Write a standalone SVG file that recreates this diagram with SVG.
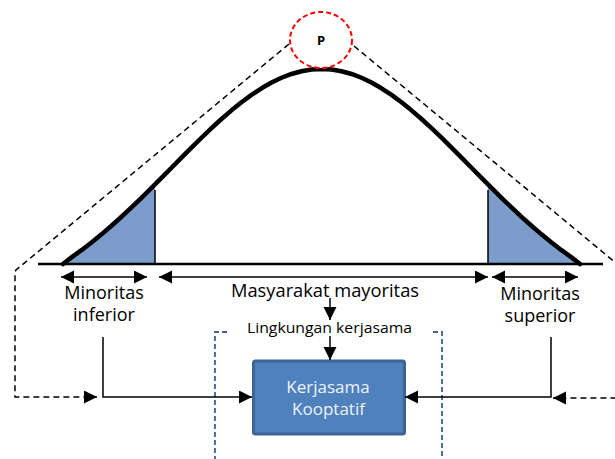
<svg xmlns="http://www.w3.org/2000/svg" width="615" height="459" viewBox="0 0 615 459">
<style>
.lbl{font-family:"Open Sans","Liberation Sans",sans-serif;font-size:18px;fill:#000;text-anchor:middle}
.dash{fill:none;stroke:#000;stroke-width:1.5;stroke-dasharray:6,4}
.solid{fill:none;stroke:#000;stroke-width:1.5}
.shade{fill:#7c9dcc;stroke:none}
.bracket{fill:none;stroke:#3e6396;stroke-width:1.8;stroke-dasharray:5,3}
</style>
<defs>
<marker id="ah" markerUnits="userSpaceOnUse" markerWidth="14" markerHeight="14" refX="13" refY="6.5" orient="auto-start-reverse">
<path d="M0,0 L13,6.5 L0,13 z" fill="#000"/>
</marker>
</defs>
<rect width="615" height="459" fill="#fff"/>
<g id="curve">
<polygon class="shade" points="63,264 71.5,257.39 81.5,250.19 91.5,242.51 101.5,234.36 111.5,225.78 121.5,216.79 131.5,207.45 141.5,197.81 151.5,187.93 155,184.4 155,264"/>
<polygon class="shade" points="488,264 488,184.4 491.5,187.93 501.5,197.81 511.5,207.45 521.5,216.79 531.5,225.78 541.5,234.36 551.5,242.51 561.5,250.19 571.5,257.39 580,264"/>
<line x1="155" y1="190" x2="155" y2="264" stroke="#000" stroke-width="1.5"/>
<line x1="488" y1="190" x2="488" y2="264" stroke="#000" stroke-width="1.5"/>
<polyline fill="none" stroke="#000" stroke-width="4.5" stroke-linejoin="round" stroke-linecap="round" points="63,264 71.5,257.39 81.5,250.19 91.5,242.51 101.5,234.36 111.5,225.78 121.5,216.79 131.5,207.45 141.5,197.81 151.5,187.93 161.5,177.89 171.5,167.75 181.5,157.61 191.5,147.58 201.5,137.73 211.5,128.17 221.5,119.01 231.5,110.34 241.5,102.27 251.5,94.89 261.5,88.29 271.5,82.56 281.5,77.77 291.5,73.97 301.5,71.22 311.5,69.56 321.5,69 331.5,69.56 341.5,71.22 351.5,73.97 361.5,77.77 371.5,82.56 381.5,88.29 391.5,94.89 401.5,102.27 411.5,110.34 421.5,119.01 431.5,128.17 441.5,137.73 451.5,147.58 461.5,157.61 471.5,167.75 481.5,177.89 491.5,187.93 501.5,197.81 511.5,207.45 521.5,216.79 531.5,225.78 541.5,234.36 551.5,242.51 561.5,250.19 571.5,257.39 580,264"/>
<line x1="38" y1="264" x2="603" y2="264" stroke="#000" stroke-width="2.5"/>
</g>
<g id="P">
<ellipse cx="321" cy="40" rx="31" ry="28" fill="#fff" stroke="#ff0000" stroke-width="2" stroke-dasharray="5,3"/>
<text x="321" y="45" font-family="'Open Sans','Liberation Sans',sans-serif" font-size="13" font-weight="bold" text-anchor="middle">P</text>
</g>
<g id="labels">
<text class="lbl" x="104" y="299">Minoritas</text>
<text class="lbl" x="104" y="321">inferior</text>
<text class="lbl" x="325" y="297" textLength="188" lengthAdjust="spacingAndGlyphs">Masyarakat mayoritas</text>
<text class="lbl" x="540" y="300">Minoritas</text>
<text class="lbl" x="540" y="322">superior</text>
<text x="329.5" y="333" font-family="'Open Sans','Liberation Sans',sans-serif" font-size="14.5" text-anchor="middle" textLength="165" lengthAdjust="spacingAndGlyphs">Lingkungan kerjasama</text>
</g>
<g id="box">
<rect x="253.5" y="361" width="151" height="73" rx="2" fill="#4f81bd" stroke="#3d6494" stroke-width="3"/>
<text x="328" y="392.5" font-family="'Open Sans','Liberation Sans',sans-serif" font-size="17" fill="#eef3fa" text-anchor="middle">Kerjasama</text>
<text x="328.5" y="415" font-family="'Open Sans','Liberation Sans',sans-serif" font-size="17" fill="#eef3fa" text-anchor="middle">Kooptatif</text>
</g>
<g id="bracket">
<polyline class="bracket" points="227,332 215,332 215,459"/>
<polyline class="bracket" points="433,332 442,332 442,459"/>
</g>
<g id="connectors">
<polyline class="dash" points="289,44 16,270 15,272 15,397 97,397" marker-end="url(#ah)"/>
<polyline class="dash" points="354,46 640,283 640,398 553,398" marker-end="url(#ah)"/>
<line class="solid" x1="61" y1="277" x2="147" y2="277" marker-start="url(#ah)" marker-end="url(#ah)"/>
<line class="solid" x1="159" y1="277" x2="488" y2="277" marker-start="url(#ah)" marker-end="url(#ah)"/>
<line class="solid" x1="492" y1="277" x2="578" y2="277" marker-start="url(#ah)" marker-end="url(#ah)"/>
<line class="solid" x1="330" y1="298" x2="330" y2="320" marker-end="url(#ah)"/>
<line class="solid" x1="330" y1="336" x2="330" y2="360" marker-end="url(#ah)"/>
<polyline class="solid" points="103,337 103,397 252,397" marker-end="url(#ah)"/>
<polyline class="solid" points="551,337 551,397 405,397" marker-end="url(#ah)"/>
</g>
</svg>
